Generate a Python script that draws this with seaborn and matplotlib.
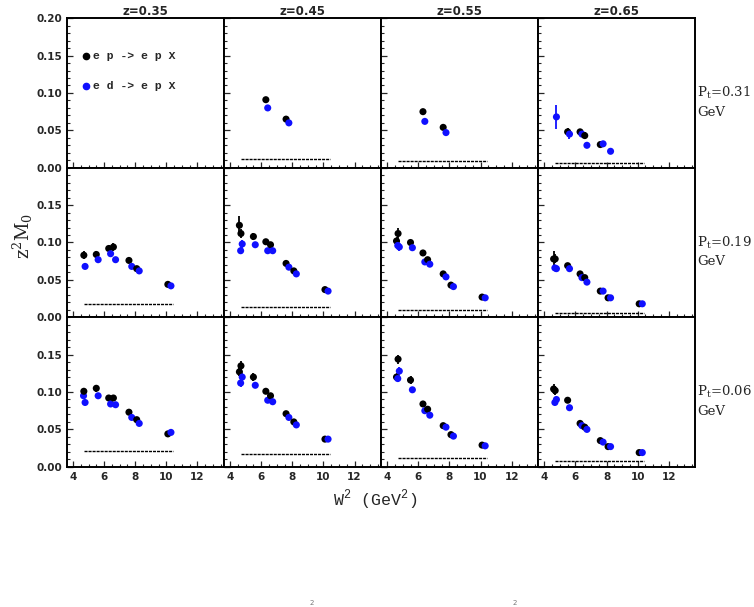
import numpy as np
import pandas as pd
import matplotlib.pyplot as plt
import seaborn as sns
from matplotlib.ticker import MultipleLocator

sns.set_theme(style="ticks")
plt.rcParams['font.family'] = 'DejaVu Sans'

# grid of bins
z_bins = [0.35, 0.45, 0.55, 0.65]
pt_bins = [0.31, 0.19, 0.06]
w2_p = [4.6, 4.7, 5.5, 6.3, 6.6, 7.6, 8.1, 10.1]
w2_d = [4.68, 4.78, 5.62, 6.42, 6.74, 7.78, 8.26, 10.3]
nan = np.nan

# z^2 M0 values, one list per (Pt, z) panel
ep_031 = [[nan] * 8,
          [nan, nan, nan, 0.091, nan, 0.065, nan, nan],
          [nan, nan, nan, 0.075, nan, 0.054, nan, nan],
          [nan, nan, 0.048, 0.048, 0.043, 0.031, nan, nan]]
ed_031 = [[nan] * 8,
          [nan, nan, nan, 0.080, nan, 0.060, nan, nan],
          [nan, nan, nan, 0.062, nan, 0.047, nan, nan],
          [nan, 0.068, 0.045, 0.045, 0.030, 0.032, 0.022, nan]]
ep_019 = [[nan, 0.083, 0.084, 0.092, 0.094, 0.076, 0.065, 0.044],
          [0.123, 0.112, 0.108, 0.101, 0.097, 0.072, 0.062, 0.037],
          [0.102, 0.112, 0.100, 0.086, 0.077, 0.058, 0.043, 0.027],
          [0.078, 0.078, 0.069, 0.058, 0.053, 0.035, 0.026, 0.018]]
ed_019 = [[nan, 0.068, 0.077, 0.085, 0.077, 0.068, 0.062, 0.042],
          [0.089, 0.098, 0.097, 0.089, 0.089, 0.067, 0.058, 0.035],
          [0.096, 0.094, 0.093, 0.074, 0.071, 0.054, 0.041, 0.026],
          [0.066, 0.065, 0.065, 0.053, 0.047, 0.035, 0.026, 0.018]]
ep_006 = [[nan, 0.101, 0.105, 0.092, 0.092, 0.073, 0.063, 0.044],
          [0.127, 0.135, 0.120, 0.101, 0.095, 0.071, 0.060, 0.037],
          [0.120, 0.144, 0.116, 0.084, 0.077, 0.055, 0.043, 0.029],
          [0.104, 0.102, 0.089, 0.058, 0.053, 0.035, 0.027, 0.019]]
ed_006 = [[0.095, 0.086, 0.095, 0.084, 0.083, 0.066, 0.058, 0.046],
          [0.112, 0.120, 0.109, 0.089, 0.087, 0.066, 0.056, 0.037],
          [0.118, 0.128, 0.103, 0.075, 0.069, 0.053, 0.041, 0.028],
          [0.086, 0.090, 0.079, 0.055, 0.050, 0.033, 0.027, 0.019]]

# statistical errors (same layout)
err_ep_031 = [[0] * 8,
              [0, 0, 0, 0.004, 0, 0.003, 0, 0],
              [0, 0, 0, 0.003, 0, 0.003, 0, 0],
              [0, 0, 0.005, 0.003, 0.005, 0.002, 0, 0]]
err_ed_031 = [[0] * 8,
              [0, 0, 0, 0.003, 0, 0.002, 0, 0],
              [0, 0, 0, 0.002, 0, 0.002, 0, 0],
              [0, 0.016, 0.006, 0.003, 0.004, 0.002, 0.002, 0]]
err_ep_019 = [[0, 0.005, 0.005, 0.004, 0.005, 0.003, 0.003, 0.004],
              [0.013, 0.006, 0.005, 0.004, 0.004, 0.003, 0.002, 0.002],
              [0.006, 0.007, 0.004, 0.003, 0.003, 0.002, 0.002, 0.002],
              [0.010, 0.006, 0.003, 0.003, 0.003, 0.002, 0.002, 0.001]]
err_ed_019 = [[0, 0.004, 0.004, 0.004, 0.004, 0.003, 0.003, 0.003],
              [0.005, 0.005, 0.004, 0.003, 0.003, 0.003, 0.002, 0.002],
              [0.005, 0.005, 0.004, 0.003, 0.003, 0.002, 0.002, 0.002],
              [0.004, 0.004, 0.003, 0.003, 0.003, 0.002, 0.002, 0.001]]
err_ep_006 = [[0, 0.005, 0.005, 0.004, 0.004, 0.003, 0.002, 0.002],
              [0.006, 0.006, 0.005, 0.003, 0.004, 0.002, 0.002, 0.002],
              [0.005, 0.006, 0.005, 0.003, 0.003, 0.002, 0.002, 0.001],
              [0.007, 0.006, 0.003, 0.002, 0.002, 0.002, 0.001, 0.001]]
err_ed_006 = [[0.005, 0.004, 0.004, 0.003, 0.003, 0.002, 0.002, 0.002],
              [0.005, 0.005, 0.004, 0.003, 0.003, 0.002, 0.002, 0.002],
              [0.005, 0.005, 0.004, 0.003, 0.003, 0.002, 0.002, 0.001],
              [0.004, 0.004, 0.003, 0.002, 0.002, 0.002, 0.001, 0.001]]

# systematic band level (dashed line) per panel
syst_w2 = [4.7, 10.4]
syst_031 = [nan, 0.012, 0.009, 0.006]
syst_019 = [0.018, 0.014, 0.010, 0.006]
syst_006 = [0.021, 0.017, 0.012, 0.0075]

ep_rows = [ep_031, ep_019, ep_006]
ed_rows = [ed_031, ed_019, ed_006]
eep_rows = [err_ep_031, err_ep_019, err_ep_006]
eed_rows = [err_ed_031, err_ed_019, err_ed_006]
syst_rows = [syst_031, syst_019, syst_006]

records = []
for i, pt in enumerate(pt_bins):
    for j, z in enumerate(z_bins):
        for k in range(8):
            records.append(dict(pt=pt, z=z, reac='ep', W2=w2_p[k],
                                val=ep_rows[i][j][k], err=eep_rows[i][j][k]))
            records.append(dict(pt=pt, z=z, reac='ed', W2=w2_d[k],
                                val=ed_rows[i][j][k], err=eed_rows[i][j][k]))
df = pd.DataFrame(records).dropna(subset=['val'])

colors = {'ep': 'black', 'ed': '#1010ff'}

plt.rcParams.update({
    'xtick.direction': 'in', 'ytick.direction': 'in',
    'xtick.major.size': 4, 'ytick.major.size': 4,
    'xtick.minor.size': 2, 'ytick.minor.size': 2,
    'xtick.major.width': 0.9, 'ytick.major.width': 0.9,
    'xtick.minor.width': 0.8, 'ytick.minor.width': 0.8,
})

fig, axes = plt.subplots(3, 4, figsize=(7.54, 6.07), dpi=100)
fig.subplots_adjust(left=0.0885, right=0.922, top=0.970, bottom=0.231,
                    wspace=0, hspace=0)

tick_font = dict(fontsize=7.5, fontweight='bold', family='DejaVu Sans')

for i, pt in enumerate(pt_bins):
    for j, z in enumerate(z_bins):
        ax = axes[i, j]
        sub = df[(df.pt == pt) & (df.z == z)]
        for reac in ['ep', 'ed']:
            s = sub[sub.reac == reac]
            if len(s):
                ax.errorbar(s.W2, s.val, yerr=s.err, fmt='none',
                            ecolor=colors[reac], elinewidth=1.3, zorder=2)
        if len(sub):
            sns.scatterplot(data=sub, x='W2', y='val', hue='reac',
                            palette=colors, s=26, linewidth=0,
                            legend=False, ax=ax, zorder=3)
        lvl = syst_rows[i][j]
        if not np.isnan(lvl):
            sns.lineplot(x=syst_w2, y=[lvl, lvl], color='black', lw=1.0,
                         linestyle=(0, (2.2, 0.7)), ax=ax)

        ax.set_xlim(3.6, 13.7)
        ax.set_ylim(0, 0.2)
        ax.xaxis.set_major_locator(MultipleLocator(2))
        ax.xaxis.set_minor_locator(MultipleLocator(0.5))
        ax.yaxis.set_minor_locator(MultipleLocator(0.01))
        ax.tick_params(which='both', top=False, right=False)
        ax.set_xlabel('')
        ax.set_ylabel('')
        for sp in ax.spines.values():
            sp.set_linewidth(1.4)
            sp.set_color('black')

        if j == 0:
            ticks = [0, 0.05, 0.10, 0.15, 0.20] if i == 0 else [0, 0.05, 0.10, 0.15]
            ax.set_yticks(ticks)
            ax.set_yticklabels([f'{t:.2f}' for t in ticks], **tick_font)
            ax.tick_params(axis='y', pad=3)
        else:
            ax.set_yticks([0, 0.05, 0.10, 0.15, 0.20])
            ax.set_yticklabels([])
        if i == 2:
            ax.set_xticks([4, 6, 8, 10, 12])
            ax.set_xticklabels(['4', '6', '8', '10', '12'], **tick_font)
            ax.tick_params(axis='x', pad=4)
        else:
            ax.set_xticklabels([])
        if i == 0:
            ax.set_title(f'z={z:.2f}', fontsize=8.5, fontweight='bold', pad=2)
        if j == 3:
            ax.text(1.012, 0.50, f'P$_\\mathregular{{t}}$={pt:.2f}',
                    transform=ax.transAxes, ha='left', va='center',
                    fontsize=9.5, family='DejaVu Serif')
            ax.text(1.012, 0.372, 'GeV', transform=ax.transAxes,
                    ha='left', va='center', fontsize=9.5, family='DejaVu Serif')

# legend in the empty panel
leg_ax = axes[0, 0]
for yy, reac, lab in [(0.747, 'ep', 'e p -> e p X'), (0.547, 'ed', 'e d -> e p X')]:
    leg_ax.plot([0.123], [yy], 'o', ms=4.5, color=colors[reac],
                transform=leg_ax.transAxes)
    leg_ax.text(0.168, yy, lab, transform=leg_ax.transAxes, va='center',
                ha='left', fontsize=8.2, fontweight='bold', family='Liberation Mono')

fig.text(0.030, 0.611, 'z$^\\mathregular{2}$M$_\\mathregular{0}$', rotation=90,
         ha='center', va='center', fontsize=13, family='DejaVu Serif')
fig.text(0.497, 0.176, 'W$^\\mathregular{2}$ (GeV$^\\mathregular{2}$)',
         ha='center', va='center', fontsize=12, family='Liberation Mono')

# caption superscripts peeking in at the bottom edge
fig.text(0.413, 0.0015, '2', ha='center', va='bottom', fontsize=5, color='#777777')
fig.text(0.683, 0.0015, '2', ha='center', va='bottom', fontsize=5, color='#777777')

fig.savefig('out.png', dpi=100)
